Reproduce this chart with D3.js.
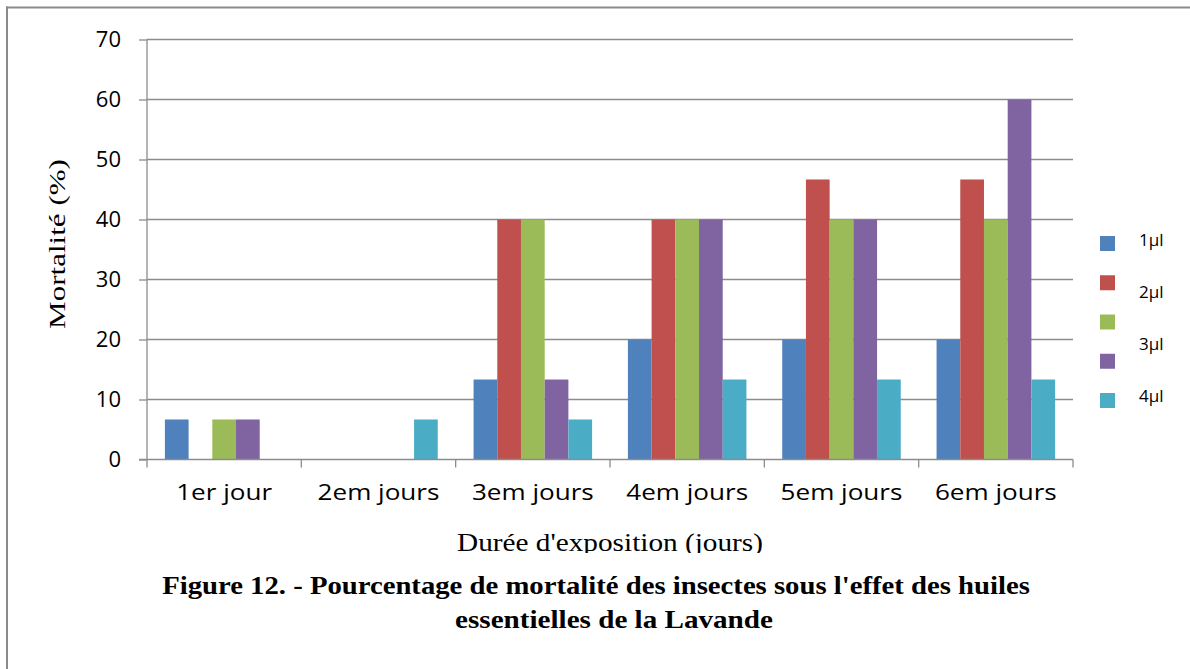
<!DOCTYPE html>
<html><head><meta charset="utf-8">
<script src="https://cdn.jsdelivr.net/npm/d3@7/dist/d3.min.js"></script>
<style>body{margin:0;background:#fff;} svg{display:block;}</style>
</head><body>
<script>
const categories = ["1er jour","2em jours","3em jours","4em jours","5em jours","6em jours"];
const seriesKeys = ["s1","s2","s3","s4","s5"];
const s1 = [6.67, 0, 13.33, 20, 20, 20];
const s2 = [0, 0, 40, 40, 46.67, 46.67];
const s3 = [6.67, 0, 40, 40, 40, 40];
const s4 = [6.67, 0, 13.33, 40, 40, 60];
const s5 = [0, 6.67, 6.67, 13.33, 13.33, 13.33];
const seriesValues = [s1, s2, s3, s4, s5];
const colors = ["#4F81BD","#C0504D","#9BBB59","#8064A2","#4BACC6"];
const legendLabels = ["1µl","2µl","3µl","4µl"];
const yTicks = [0,10,20,30,40,50,60,70];
const yTitle = "Mortalité (%)";
const xTitle = "Durée d'exposition (jours)";
const figTitle1 = "Figure 12. - Pourcentage de mortalité des insectes sous l'effet des huiles";
const figTitle2 = "essentielles de la Lavande";

(function(){
const W = 1190, H = 669;
const svg = d3.select("body").append("svg").attr("width", W).attr("height", H);
const serif = "'Liberation Serif', 'Times New Roman', serif";
const sans = "'Open Sans', sans-serif";

function stretch(sel, target){
  sel.each(function(){
    const n = this.getComputedTextLength();
    const t = this.getAttribute("transform") || "";
    this.setAttribute("transform", t + ` scale(${target/n},1)`);
  });
}

// frame
svg.append("line").attr("x1",6).attr("x2",W).attr("y1",7.5).attr("y2",7.5).attr("stroke","#8a8a8a").attr("stroke-width",2);
svg.append("line").attr("x1",7).attr("x2",7).attr("y1",6.5).attr("y2",H).attr("stroke","#8a8a8a").attr("stroke-width",2);

const pL = 147, pR = 1073, pT = 39.5, pB = 459.5;
const x = d3.scaleBand().domain(categories).range([pL, pR]).paddingInner(0).paddingOuter(0);
const inner = d3.scaleBand().domain(seriesKeys).range([0, x.bandwidth()]).paddingInner(0).paddingOuter(0.755);
const y = d3.scaleLinear().domain([0,70]).range([pB, pT]);

// gridlines
svg.append("g").selectAll("line").data(yTicks.filter(t=>t>0)).join("line")
  .attr("x1", pL).attr("x2", pR)
  .attr("y1", d=>y(d)).attr("y2", d=>y(d))
  .attr("stroke","#8c8c8c").attr("stroke-width",1.3);

// bars
const rows = categories.map((c,i)=>({cat:c, vals: seriesValues.map(s=>s[i])}));
const g = svg.append("g");
rows.forEach(r=>{
  g.append("g").attr("transform",`translate(${x(r.cat)},0)`)
   .selectAll("rect").data(r.vals.map((v,j)=>({k:seriesKeys[j], v, j}))).join("rect")
   .attr("x", d=>inner(d.k)).attr("width", inner.bandwidth())
   .attr("y", d=>y(d.v)).attr("height", d=>y(0)-y(d.v))
   .attr("fill", d=>colors[d.j]);
});

// y axis
const yAxis = d3.axisLeft(y).tickValues(yTicks).tickSize(8).tickPadding(18);
const ya = svg.append("g").attr("transform",`translate(${pL},0)`).call(yAxis);
ya.select(".domain").attr("stroke","#8c8c8c").attr("stroke-width",1.3).attr("d",`M0,${pT}V${pB}`);
ya.selectAll(".tick line").attr("stroke","#8c8c8c").attr("stroke-width",1.3);
ya.selectAll(".tick text").attr("font-family",sans).attr("font-size",22).attr("fill","#000");

// x axis
const xAxis = d3.axisBottom(x).tickSize(0).tickPadding(25);
const xa = svg.append("g").attr("transform",`translate(0,${pB})`).call(xAxis);
xa.select(".domain").attr("stroke","#8c8c8c").attr("stroke-width",1.3).attr("d",`M${pL-8},0H${pR}`);
const xt = xa.selectAll(".tick text").attr("font-family",sans).attr("font-size",22).attr("fill","#000");
const n0 = xt.node().getComputedTextLength();
const kx = 96 / n0;
xt.attr("transform", `scale(${kx},1)`);
// boundary ticks
const bounds = categories.map(c=>x(c)).concat([pR]);
svg.append("g").selectAll("line").data(bounds).join("line")
  .attr("x1",d=>d).attr("x2",d=>d).attr("y1",pB).attr("y2",pB+8)
  .attr("stroke","#8c8c8c").attr("stroke-width",1.3);

// y title
const yt = svg.append("text").attr("transform",`translate(65,244) rotate(-90)`).attr("text-anchor","middle")
  .attr("font-family",serif).attr("font-size",24).text(yTitle);
stretch(yt, 170);

// x title clipped
svg.append("clipPath").attr("id","xc").append("rect").attr("x",0).attr("y",0).attr("width",W).attr("height",553);
const xtg = svg.append("g").attr("clip-path","url(#xc)");
const xtt = xtg.append("text").attr("transform","translate(610,551)").attr("text-anchor","middle")
  .attr("font-family",serif).attr("font-size",26).text(xTitle);
stretch(xtt, 306);

// fig title
const f1 = svg.append("text").attr("transform","translate(596,594)").attr("text-anchor","middle")
  .attr("font-family",serif).attr("font-weight","bold").attr("font-size",25.5).text(figTitle1);
stretch(f1, 868);
const f2 = svg.append("text").attr("transform","translate(614,628)").attr("text-anchor","middle")
  .attr("font-family",serif).attr("font-weight","bold").attr("font-size",25.5).text(figTitle2);
stretch(f2, 318);

// legend
const lg = svg.append("g");
lg.selectAll("rect").data(colors).join("rect")
  .attr("x",1100).attr("y",(d,i)=>236+i*39.25).attr("width",15).attr("height",15).attr("fill",d=>d);
lg.selectAll("text").data(legendLabels).join("text")
  .attr("x",1139).attr("y",(d,i)=>240+i*52).attr("dy","0.35em")
  .attr("font-family",sans).attr("font-size",17).attr("fill","#000").text(d=>d);
})();
</script>
</body></html>
